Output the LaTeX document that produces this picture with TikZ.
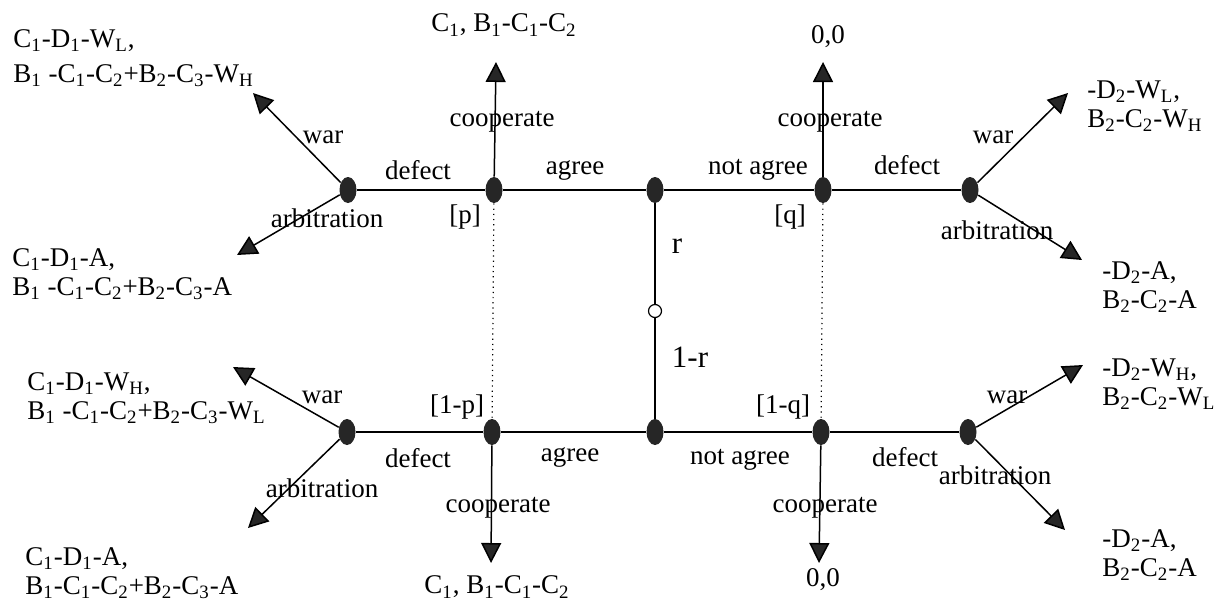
\documentclass[tikz,border=0pt]{standalone}
\usepackage{fontspec}
\setmainfont{Liberation Serif}
\usetikzlibrary{arrows.meta,shapes.geometric}
\newcommand{\mysub}[1]{\textsubscript{#1}}
\begin{document}
\begin{tikzpicture}[x=0.5pt,y=-0.5pt,
  every node/.style={font=\fontsize{13.5}{14.5}\selectfont, inner sep=0pt},
  dec/.style={ellipse, fill=black!85, minimum width=8.5pt, minimum height=13pt, inner sep=0pt},
  chancenode/.style={circle, draw, line width=0.6pt, fill=white, minimum size=6.5pt, inner sep=0pt},
  edge/.style={line width=0.75pt},
  move/.style={line width=0.75pt, -{Triangle[length=10pt,width=10pt,fill=black!85]}},
  info/.style={dotted, line width=0.6pt},
  pay/.style={align=left, anchor=west},
  biglab/.style={font=\fontsize{15.5}{16}\selectfont}]
\useasboundingbox (0,0) rectangle (1218,605);
% decision nodes
\node[dec] (L1) at (348,190) {};
\node[dec] (P1) at (494,190) {};
\node[dec] (C1) at (655,190) {};
\node[dec] (Q1) at (823,190) {};
\node[dec] (R1) at (970,190) {};
\node[dec] (L2) at (347,432) {};
\node[dec] (P2) at (492,432) {};
\node[dec] (C2) at (655,432) {};
\node[dec] (Q2) at (821,432) {};
\node[dec] (R2) at (968,432) {};
\node[chancenode] (N) at (655,311) {};
% arrow tips
\coordinate (tL1w) at (253,93);
\coordinate (tL1a) at (237,255);
\coordinate (tP1) at (496,62);
\coordinate (tQ1) at (823,62);
\coordinate (tR1w) at (1068,93);
\coordinate (tR1a) at (1082,260);
\coordinate (tL2w) at (233,367);
\coordinate (tL2a) at (248,528);
\coordinate (tP2) at (491,563);
\coordinate (tQ2) at (819,563);
\coordinate (tR2w) at (1083,365);
\coordinate (tR2a) at (1065,530);
% edges
\draw[edge] (L1) -- (P1) -- (C1) -- (Q1) -- (R1);
\draw[edge] (L2) -- (P2) -- (C2) -- (Q2) -- (R2);
\draw[edge] (C1) -- (N) -- (C2);
\draw[info] (P1) -- (P2);
\draw[info] (Q1) -- (Q2);
\draw[move] (L1) -- (tL1w);
\draw[move] (L1) -- (tL1a);
\draw[move] (P1) -- (tP1);
\draw[move] (Q1) -- (tQ1);
\draw[move] (R1) -- (tR1w);
\draw[move] (R1) -- (tR1a);
\draw[move] (L2) -- (tL2w);
\draw[move] (L2) -- (tL2a);
\draw[move] (P2) -- (tP2);
\draw[move] (Q2) -- (tQ2);
\draw[move] (R2) -- (tR2w);
\draw[move] (R2) -- (tR2a);
% move labels
\node (lw1) at (323,137) {war};
\node (la1) at (327,218) {arbitration};
\node (ld1) at (418,170) {defect};
\node (lc1) at (502,122) {cooperate};
\node (lg1) at (575,170) {agree};
\node (lp1) at (465,217) {[p]};
\node (ln1) at (758,170) {not agree};
\node (lq1) at (790,217) {[q]};
\node[biglab] (lr) at (677,246) {r};
\node (lc1r) at (830,122) {cooperate};
\node (ld1r) at (907,165) {defect};
\node (lw1r) at (993,137) {war};
\node (la1r) at (997,230) {arbitration};
\node (lw2) at (322,397) {war};
\node (la2) at (322,488) {arbitration};
\node (ld2) at (418,458) {defect};
\node (lp2) at (457,407) {[1-p]};
\node (lg2) at (570,457) {agree};
\node[biglab] (l1r) at (690,357) {1-r};
\node (ln2) at (740,460) {not agree};
\node (lq2) at (783,407) {[1-q]};
\node (lc2) at (498,508) {cooperate};
\node (lc2r) at (825,508) {cooperate};
\node (ld2r) at (905,457) {defect};
\node (lw2r) at (1007,397) {war};
\node (la2r) at (995,475) {arbitration};
% payoffs
\node[pay] (pay1) at (13,58) {C\mysub{1}-D\mysub{1}-W\mysub{L},\\[3pt]B\mysub{1} -C\mysub{1}-C\mysub{2}+B\mysub{2}-C\mysub{3}-W\mysub{H}};
\node[pay] (pay2) at (12,274) {C\mysub{1}-D\mysub{1}-A,\\B\mysub{1} -C\mysub{1}-C\mysub{2}+B\mysub{2}-C\mysub{3}-A};
\node (pay3) at (504,25) {C\mysub{1}, B\mysub{1}-C\mysub{1}-C\mysub{2}};
\node (pay4) at (828,37) {0,0};
\node[pay] (pay5) at (1087,106) {-D\mysub{2}-W\mysub{L},\\B\mysub{2}-C\mysub{2}-W\mysub{H}};
\node[pay] (pay6) at (1102,287) {-D\mysub{2}-A,\\B\mysub{2}-C\mysub{2}-A};
\node[pay] (pay7) at (27,398) {C\mysub{1}-D\mysub{1}-W\mysub{H},\\B\mysub{1} -C\mysub{1}-C\mysub{2}+B\mysub{2}-C\mysub{3}-W\mysub{L}};
\node[pay] (pay8) at (25,573) {C\mysub{1}-D\mysub{1}-A,\\B\mysub{1}-C\mysub{1}-C\mysub{2}+B\mysub{2}-C\mysub{3}-A};
\node (pay9) at (497,587) {C\mysub{1}, B\mysub{1}-C\mysub{1}-C\mysub{2}};
\node (pay10) at (823,580) {0,0};
\node[pay] (pay11) at (1102,384) {-D\mysub{2}-W\mysub{H},\\B\mysub{2}-C\mysub{2}-W\mysub{L}};
\node[pay] (pay12) at (1102,555) {-D\mysub{2}-A,\\B\mysub{2}-C\mysub{2}-A};
\end{tikzpicture}
\end{document}
